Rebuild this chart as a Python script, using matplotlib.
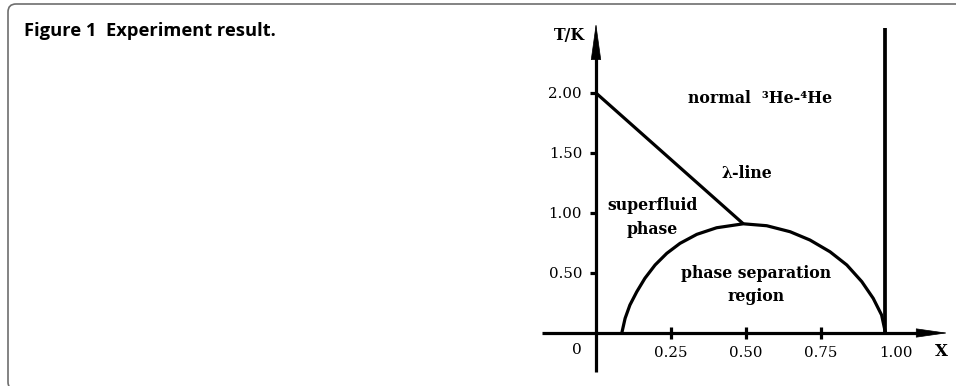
import matplotlib
matplotlib.use('Agg')
import matplotlib.pyplot as plt
from matplotlib.patches import FancyBboxPatch
from matplotlib.transforms import IdentityTransform

# values
lambda_x = [0.0, 0.491]
lambda_T = [2.0, 0.91]

dome_x = [0.086, 0.097, 0.113, 0.136, 0.163, 0.197, 0.236, 0.28, 0.336, 0.402, 0.491,
          0.569, 0.647, 0.713, 0.78, 0.836, 0.886, 0.924, 0.952, 0.965]
dome_T = [0.0, 0.122, 0.233, 0.344, 0.456, 0.567, 0.664, 0.747, 0.822, 0.877, 0.91,
          0.894, 0.844, 0.775, 0.677, 0.567, 0.428, 0.289, 0.15, 0.0]

wall_x = [0.963, 0.963]
wall_T = [0.0, 2.54]

y_ticks = [0.5, 1.0, 1.5, 2.0]
y_labels = ['0.50', '1.00', '1.50', '2.00']
x_ticks = [0.25, 0.5, 0.75]
x_labels = ['0.25', '0.50', '0.75']
x_end_tick = [1.0]
x_end_label = ['1.00']

serif = 'DejaVu Serif'
lw = 2.3

fig = plt.figure(figsize=(9.56, 3.86), dpi=100)
ax = fig.add_axes([0, 0, 1, 1])
ax.set_xlim(-596 / 300, 360 / 300)
ax.set_ylim(-53 / 120, 333 / 120)

# frame around the figure
frame = FancyBboxPatch((8, -4), 1100, 386, boxstyle='round,pad=0,rounding_size=8',
                       transform=IdentityTransform(), fill=False, ec='#6e6e6e', lw=1.2)
fig.patches.append(frame)
fig.text(24 / 956, 1 - 31 / 386, 'Figure 1  Experiment result.', fontsize=13.2,
         fontweight='bold', family='Open Sans', va='center', ha='left')

# axes through the origin
for s in ['top', 'right']:
    ax.spines[s].set_visible(False)
ax.spines['left'].set_position(('data', 0))
ax.spines['bottom'].set_position(('data', 0))
ax.spines['left'].set_bounds(-0.325, 2.31)
ax.spines['bottom'].set_bounds(-0.18, 1.075)
for s in ['left', 'bottom']:
    ax.spines[s].set_linewidth(lw)
    ax.spines[s].set_capstyle('butt')

# arrow heads only, the shafts are the spines
ax.annotate('', xy=(0, 2.583), xytext=(0, 2.3),
            arrowprops=dict(arrowstyle='-|>,head_length=2.45,head_width=0.34', color='black',
                            lw=0.5, shrinkA=0, shrinkB=0, mutation_scale=10))
ax.annotate('', xy=(1.173, 0), xytext=(1.07, 0),
            arrowprops=dict(arrowstyle='-|>,head_length=2.1,head_width=0.3', color='black',
                            lw=0.5, shrinkA=0, shrinkB=0, mutation_scale=10))

ax.set_yticks(y_ticks, y_labels)
ax.set_xticks(x_ticks, x_labels)
ax.set_xticks(x_end_tick, x_end_label, minor=True)
ax.tick_params(axis='y', direction='out', length=4.3, width=lw, pad=5.7, labelsize=10.8)
ax.tick_params(axis='x', which='major', direction='inout', length=8, width=lw, pad=5.4, labelsize=10.8)
ax.tick_params(axis='x', which='minor', length=0, pad=9.4, labelsize=10.8)
for lab in ax.get_xticklabels(which='both') + ax.get_yticklabels():
    lab.set_family(serif)

# phase diagram lines
ax.plot(lambda_x, lambda_T, color='black', lw=lw, solid_capstyle='butt')
ax.plot(dome_x, dome_T, color='black', lw=lw, solid_joinstyle='round')
ax.plot(wall_x, wall_T, color='black', lw=lw + 0.4, solid_capstyle='butt')

txt = dict(family=serif, fontsize=11.3, fontweight='semibold', ha='center', va='center')
ax.text(-0.087, 2.475, 'T/K', **txt)
ax.text(0.547, 1.958, 'normal  \u00b3He-\u2074He', **txt)
ax.text(0.503, 1.325, '\u03bb-line', **txt)
ax.text(0.187, 0.9625, 'superfluid\nphase', linespacing=1.5, **txt)
ax.text(0.533, 0.40, 'phase separation\nregion', linespacing=1.5, **txt)
ax.text(-0.063, -0.142, '0', family=serif, fontsize=11, ha='center', va='center')
ax.text(1.15, -0.158, 'X', family=serif, fontsize=12, fontweight='bold', ha='center', va='center')

fig.savefig('out.png', dpi=100)
